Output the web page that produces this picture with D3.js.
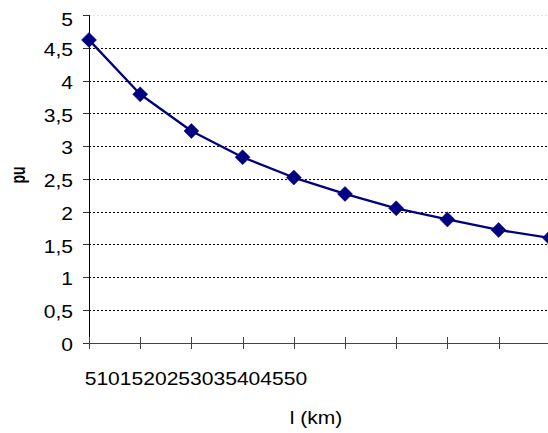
<!DOCTYPE html>
<html>
<head>
<meta charset="utf-8">
<script src="https://cdn.jsdelivr.net/npm/d3@7"></script>
<style>
  html, body { margin: 0; padding: 0; background: #fff; }
  svg { display: block; }
  text { font-family: "Liberation Sans", Arial, sans-serif; fill: #000; }
</style>
</head>
<body>
<script>
// Line length l (km) and per-unit value
const categories = ["5", "10", "15", "20", "25", "30", "35", "40", "45", "50"];
const puValues = [4.62, 3.79, 3.23, 2.83, 2.52, 2.27, 2.05, 1.88, 1.72, 1.60];
const yTicks = [0, 0.5, 1, 1.5, 2, 2.5, 3, 3.5, 4, 4.5, 5];
const yTickLabels = ["0", "0,5", "1", "1,5", "2", "2,5", "3", "3,5", "4", "4,5", "5"];
const xTitle = "l (km)";
const yTitle = "pu";

const W = 548, H = 433;
const SX = 1.17; // horizontal glyph stretch used for all labels

const svg = d3.select("body").append("svg")
  .attr("width", W).attr("height", H);
svg.append("rect").attr("width", W).attr("height", H).attr("fill", "#fff");

const x = d3.scalePoint().domain(categories).range([89, 549.8]);
const y = d3.scaleLinear().domain([0, 5]).range([342.7, 15]);

function stretchedText(g, str, tx, ty, size, anchor, weight) {
  return g.append("text")
    .attr("transform", `translate(${tx},${ty}) scale(${SX},1)`)
    .attr("text-anchor", anchor || "start")
    .style("font-size", size + "px")
    .style("font-weight", weight || "normal")
    .text(str);
}

// horizontal dotted grid
svg.append("g").selectAll("line")
  .data(yTicks.filter(v => v > 0))
  .join("line")
  .attr("x1", 89).attr("x2", W)
  .attr("y1", d => Math.round(y(d)) + 0.5).attr("y2", d => Math.round(y(d)) + 0.5)
  .attr("stroke", d => d === 5 ? "#e2e2e2" : "#000")
  .attr("stroke-width", 1)
  .attr("stroke-dasharray", "2,2");

// y axis line and ticks
svg.append("line")
  .attr("x1", 89.5).attr("x2", 89.5)
  .attr("y1", y(5)).attr("y2", y(0))
  .attr("stroke", "#000").attr("stroke-width", 1);
svg.append("g").selectAll("line")
  .data(yTicks)
  .join("line")
  .attr("x1", 83).attr("x2", 89.5)
  .attr("y1", d => Math.round(y(d)) + 0.5).attr("y2", d => Math.round(y(d)) + 0.5)
  .attr("stroke", "#333");

// y tick labels
const yLab = svg.append("g");
yTicks.forEach((v, i) => {
  const by = Math.max(y(v) + 8.3, 26);
  stretchedText(yLab, yTickLabels[i], 73, by, 18, "end");
});

// x axis line and cross ticks
svg.append("line")
  .attr("x1", 89).attr("x2", W)
  .attr("y1", Math.round(y(0)) + 0.5).attr("y2", Math.round(y(0)) + 0.5)
  .attr("stroke", "#444").attr("stroke-width", 1);
svg.append("g").selectAll("line")
  .data(categories)
  .join("line")
  .attr("x1", d => Math.round(x(d)) + 0.5).attr("x2", d => Math.round(x(d)) + 0.5)
  .attr("y1", 337).attr("y2", 349)
  .attr("stroke", "#444");

// category labels, set one after another
const xLab = svg.append("g");
let cx = 84.7;
categories.forEach(c => {
  const t = stretchedText(xLab, c, cx, 385, 18, "start");
  cx += t.node().getComputedTextLength() * SX;
});

// series line
const line = d3.line()
  .x((d, i) => x(categories[i]))
  .y(d => y(d));
svg.append("path")
  .datum(puValues)
  .attr("d", line)
  .attr("fill", "none")
  .attr("stroke", "#000080")
  .attr("stroke-width", 2.3)
  .attr("stroke-linejoin", "round");

// diamond markers
const diamond = d3.symbol().type(d3.symbolSquare).size(112);
svg.append("g").selectAll("path")
  .data(puValues)
  .join("path")
  .attr("d", diamond)
  .attr("transform", (d, i) => `translate(${x(categories[i])},${y(d)}) rotate(45)`)
  .attr("fill", "#000080")
  .attr("stroke", "#000080")
  .attr("stroke-width", 0.5);

// axis titles
stretchedText(svg, xTitle, 316, 424, 18, "middle");
svg.append("text")
  .attr("transform", `translate(25,175) scale(1.45,1) rotate(-90)`)
  .attr("text-anchor", "middle")
  .style("font-size", "14px")
  .style("font-weight", "bold")
  .text(yTitle);
</script>
</body>
</html>
